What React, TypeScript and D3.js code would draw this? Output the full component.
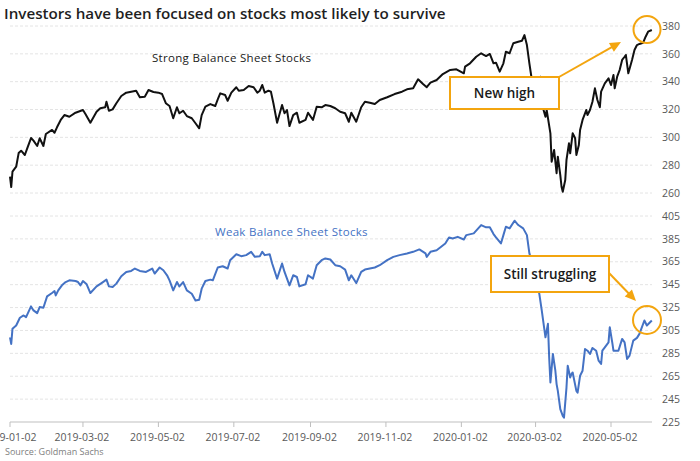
import React from "react";
import * as d3 from "d3";

const strongDates = [
  "2019-01-02","2019-01-03","2019-01-04","2019-01-07","2019-01-09","2019-01-11","2019-01-14","2019-01-16","2019-01-19","2019-01-21",
  "2019-01-24","2019-01-26","2019-01-29","2019-01-31","2019-02-05","2019-02-07","2019-02-09","2019-02-12","2019-02-15","2019-02-19",
  "2019-02-24","2019-03-02","2019-03-04","2019-03-08","2019-03-13","2019-03-16","2019-03-20","2019-03-21","2019-03-23","2019-03-26",
  "2019-03-29","2019-04-02","2019-04-06","2019-04-10","2019-04-14","2019-04-17","2019-04-21","2019-04-24","2019-04-28","2019-05-02",
  "2019-05-05","2019-05-08","2019-05-11","2019-05-14","2019-05-17","2019-05-19","2019-05-22","2019-05-25","2019-05-29","2019-06-01",
  "2019-06-04","2019-06-06","2019-06-09","2019-06-13","2019-06-17","2019-06-19","2019-06-21","2019-06-25","2019-06-27","2019-06-30",
  "2019-07-04","2019-07-06","2019-07-10","2019-07-14","2019-07-18","2019-07-21","2019-07-23","2019-07-25","2019-07-27","2019-07-30",
  "2019-08-01","2019-08-03","2019-08-06","2019-08-10","2019-08-12","2019-08-14","2019-08-16","2019-08-19","2019-08-22","2019-08-24",
  "2019-08-29","2019-08-31","2019-09-04","2019-09-07","2019-09-11","2019-09-14","2019-09-18","2019-09-22","2019-09-26","2019-09-30",
  "2019-10-03","2019-10-05","2019-10-09","2019-10-13","2019-10-16","2019-10-20","2019-10-24","2019-10-28","2019-11-03","2019-11-09",
  "2019-11-15","2019-11-19","2019-11-24","2019-11-28","2019-12-02","2019-12-05","2019-12-08","2019-12-13","2019-12-18","2019-12-24",
  "2019-12-29","2020-01-04","2020-01-05","2020-01-09","2020-01-14","2020-01-18","2020-01-22","2020-01-25","2020-01-28","2020-01-30",
  "2020-02-02","2020-02-05","2020-02-07","2020-02-10","2020-02-13","2020-02-17","2020-02-20","2020-02-22","2020-02-24","2020-02-26",
  "2020-02-28","2020-03-02","2020-03-04","2020-03-06","2020-03-08","2020-03-10","2020-03-11","2020-03-14","2020-03-15","2020-03-17",
  "2020-03-19","2020-03-20","2020-03-22","2020-03-23","2020-03-24","2020-03-26","2020-03-27","2020-03-29","2020-03-30","2020-04-01",
  "2020-04-03","2020-04-04","2020-04-06","2020-04-07","2020-04-09","2020-04-12","2020-04-13","2020-04-15","2020-04-17","2020-04-19",
  "2020-04-21","2020-04-23","2020-04-24","2020-04-27","2020-04-30","2020-05-02","2020-05-04","2020-05-05","2020-05-07","2020-05-09",
  "2020-05-11","2020-05-13","2020-05-14","2020-05-16","2020-05-19","2020-05-21","2020-05-23","2020-05-25","2020-05-28","2020-05-30",
  "2020-06-01","2020-06-04"
];
const strongValues = [
  271.7,264.3,275.3,278.9,288.7,290.4,287.3,292.3,299.5,297.6,
  293.8,299.3,293.8,302.4,305.3,303.3,307.2,312.5,316.0,314.8,
  317.7,319.6,316.8,310.5,318.4,320.9,321.6,325.6,319.1,320.1,
  324.5,329.7,332.1,332.8,333.5,328.8,329.2,334.0,332.6,332.1,
  331.1,324.5,322.5,313.7,321.6,317.3,319.1,315.3,313.7,310.1,
  306.5,316.0,322.0,323.9,322.5,327.3,331.6,330.4,326.3,332.1,
  336.0,333.5,334.0,336.9,336.0,332.1,333.5,337.6,332.1,333.5,
  332.8,324.5,310.5,323.2,317.3,319.6,308.1,316.0,317.7,310.5,
  312.5,317.7,312.5,322.0,321.6,323.2,322.5,320.9,318.4,317.3,
  311.2,317.7,311.2,321.6,325.6,324.9,323.9,326.8,328.8,331.1,
  332.8,334.5,335.2,341.7,338.3,336.0,339.3,341.2,345.5,348.4,
  348.9,346.0,350.8,353.2,357.9,360.4,358.4,359.9,353.2,353.6,
  347.2,353.2,361.5,360.4,367.6,368.7,369.4,373.5,366.3,353.2,
  341.2,340.0,335.0,343.5,321.1,314.8,319.6,302.9,282.5,290.9,
  274.2,286.1,272.9,264.5,260.9,269.3,283.7,295.7,288.5,302.9,
  299.3,287.3,294.5,305.3,312.5,319.6,316.0,319.6,325.6,335.2,
  326.8,321.6,332.8,338.8,342.4,337.6,344.8,335.2,343.6,348.4,
  355.6,357.9,359.2,346.0,355.6,362.8,366.3,367.1,368.0,372.3,
  375.9,377.1
];

const weakDates = [
  "2019-01-02","2019-01-03","2019-01-04","2019-01-07","2019-01-10","2019-01-13","2019-01-15","2019-01-19","2019-01-21","2019-01-24",
  "2019-01-26","2019-01-29","2019-02-01","2019-02-05","2019-02-07","2019-02-08","2019-02-10","2019-02-13","2019-02-16","2019-02-19",
  "2019-02-24","2019-02-26","2019-02-28","2019-03-02","2019-03-05","2019-03-08","2019-03-13","2019-03-17","2019-03-21","2019-03-23",
  "2019-03-26","2019-03-29","2019-04-02","2019-04-06","2019-04-10","2019-04-13","2019-04-17","2019-04-22","2019-04-27","2019-04-29",
  "2019-05-03","2019-05-06","2019-05-09","2019-05-11","2019-05-14","2019-05-17","2019-05-19","2019-05-22","2019-05-25","2019-05-29",
  "2019-06-01","2019-06-04","2019-06-06","2019-06-09","2019-06-13","2019-06-15","2019-06-19","2019-06-23","2019-06-27","2019-06-29",
  "2019-07-04","2019-07-08","2019-07-12","2019-07-16","2019-07-19","2019-07-23","2019-07-25","2019-07-27","2019-07-31","2019-08-02",
  "2019-08-06","2019-08-10","2019-08-12","2019-08-16","2019-08-19","2019-08-22","2019-08-24","2019-08-29","2019-08-31","2019-09-04",
  "2019-09-07","2019-09-11","2019-09-14","2019-09-18","2019-09-22","2019-09-26","2019-09-30","2019-10-03","2019-10-05","2019-10-09",
  "2019-10-13","2019-10-16","2019-10-20","2019-10-24","2019-10-28","2019-11-03","2019-11-08","2019-11-13","2019-11-19","2019-11-24",
  "2019-11-29","2019-12-04","2019-12-05","2019-12-08","2019-12-13","2019-12-20","2019-12-23","2019-12-26","2019-12-30","2020-01-04",
  "2020-01-06","2020-01-12","2020-01-18","2020-01-22","2020-01-25","2020-01-28","2020-01-30","2020-02-03","2020-02-05","2020-02-07",
  "2020-02-10","2020-02-14","2020-02-17","2020-02-21","2020-02-24","2020-02-26","2020-02-29","2020-03-03","2020-03-05","2020-03-07",
  "2020-03-10","2020-03-12","2020-03-13","2020-03-14","2020-03-16","2020-03-18","2020-03-19","2020-03-20","2020-03-22","2020-03-24",
  "2020-03-25","2020-03-27","2020-03-28","2020-03-30","2020-03-31","2020-04-01","2020-04-04","2020-04-05","2020-04-07","2020-04-09",
  "2020-04-11","2020-04-13","2020-04-15","2020-04-17","2020-04-20","2020-04-22","2020-04-24","2020-04-25","2020-04-27","2020-04-30",
  "2020-05-01","2020-05-03","2020-05-04","2020-05-08","2020-05-11","2020-05-13","2020-05-15","2020-05-17","2020-05-20","2020-05-23",
  "2020-05-25","2020-05-29","2020-05-31","2020-06-04"
];
const weakValues = [
  299.0,293.2,306.4,309.3,316.1,318.1,316.6,326.0,322.5,320.1,
  325.4,324.8,334.8,337.7,339.4,335.6,340.0,344.4,347.3,348.8,
  348.2,347.3,344.4,348.2,345.3,337.7,343.5,346.4,349.4,343.5,
  342.9,345.9,352.3,356.1,357.0,359.1,357.0,356.1,359.1,354.7,
  360.0,357.6,353.2,348.8,340.0,347.3,343.5,347.3,340.0,337.1,
  331.2,331.9,341.5,348.2,349.4,348.8,360.0,361.1,359.1,366.4,
  371.6,369.9,370.8,373.7,369.3,369.9,373.7,370.8,371.6,363.5,
  350.3,363.5,356.1,344.4,353.2,351.7,343.5,345.3,353.2,350.3,
  362.0,366.4,367.9,367.0,362.0,361.1,358.2,348.8,353.2,346.4,
  356.1,358.2,359.1,360.0,362.0,366.4,369.3,370.8,372.3,373.7,
  375.8,372.3,369.3,373.7,375.1,381.0,386.3,385.4,386.8,384.5,
  388.3,389.8,397.1,395.1,395.1,389.2,386.3,381.0,388.3,395.6,
  394.2,400.9,397.1,394.2,388.3,372.3,362.0,348.8,337.1,322.5,
  299.0,310.8,281.5,259.5,284.5,269.8,258.1,252.2,236.2,230.3,
  228.8,255.1,274.2,263.9,266.9,268.3,252.2,250.7,265.4,269.8,
  288.8,287.3,284.4,289.7,287.3,278.6,275.7,287.3,290.2,294.6,
  307.8,294.6,287.3,287.3,297.6,294.6,280.1,283.0,296.1,298.5,
  302.0,313.7,309.3,313.7
];

const xTickLabels = ["2019-01-02","2019-03-02","2019-05-02","2019-07-02","2019-09-02","2019-11-02","2020-01-02","2020-03-02","2020-05-02"];
const strongTicks = [260, 280, 300, 320, 340, 360, 380];
const weakTicks = [225, 245, 265, 285, 305, 325, 345, 365, 385, 405];

const titleText = "Investors have been focused on stocks most likely to survive";
const strongLabel = "Strong Balance Sheet Stocks";
const weakLabel = "Weak Balance Sheet Stocks";
const note1 = "New high";
const note2 = "Still struggling";
const sourceText = "Source: Goldman Sachs";

const W = 700, H = 461;
const ORANGE = "#F3A50F";
const BLUE = "#4472C4";
const FONT = "'Open Sans', 'Noto Sans', sans-serif";

function parse(s: string) { return new Date(s + "T00:00:00Z"); }

export default function App() {
  const x = d3.scaleUtc().domain([parse("2019-01-02"), parse("2020-05-02")]).range([10, 611]);
  const yTop = d3.scaleLinear().domain([260, 380]).range([193, 26]);
  const yBot = d3.scaleLinear().domain([225, 405]).range([422, 216]);

  const strongData = strongDates.map((d, i) => ({ d: parse(d), v: strongValues[i] }));
  const weakData = weakDates.map((d, i) => ({ d: parse(d), v: weakValues[i] }));

  const lineTop = d3.line<{ d: Date; v: number }>().x(p => x(p.d)).y(p => yTop(p.v));
  const lineBot = d3.line<{ d: Date; v: number }>().x(p => x(p.d)).y(p => yBot(p.v));

  const gridX0 = 10, gridX1 = 652;

  const arrowHead = (x1: number, y1: number, x2: number, y2: number, len = 11, w = 5) => {
    const a = Math.atan2(y2 - y1, x2 - x1);
    const bx = x2 - len * Math.cos(a), by = y2 - len * Math.sin(a);
    const px = -Math.sin(a) * w, py = Math.cos(a) * w;
    return `M${x2},${y2}L${bx + px},${by + py}L${bx - px},${by - py}Z`;
  };
  const lineEnd = (x1: number, y1: number, x2: number, y2: number, len = 9) => {
    const a = Math.atan2(y2 - y1, x2 - x1);
    return [x2 - len * Math.cos(a), y2 - len * Math.sin(a)];
  };
  const a1 = [559, 77, 621, 42];
  const a2 = [609, 273, 636, 301];
  const e1 = lineEnd(a1[0], a1[1], a1[2], a1[3]);
  const e2 = lineEnd(a2[0], a2[1], a2[2], a2[3]);

  return (
    <div style={{ position: "absolute", left: 0, top: 0, width: W, height: H, background: "#fff" }}>
      <svg width={W} height={H} style={{ display: "block", fontFamily: FONT }}>
        <rect x={0} y={0} width={W} height={H} fill="#fff" />
        {strongTicks.map(t => (
          <line key={"gt" + t} x1={gridX0} x2={gridX1} y1={yTop(t)} y2={yTop(t)} stroke="#e4e4e4" strokeDasharray="3 2" />
        ))}
        {weakTicks.filter(t => t !== 225).map(t => (
          <line key={"gb" + t} x1={gridX0} x2={gridX1} y1={yBot(t)} y2={yBot(t)} stroke="#e4e4e4" strokeDasharray="3 2" />
        ))}
        <line x1={gridX0} x2={gridX1} y1={yBot(225)} y2={yBot(225)} stroke="#bfbfbf" />
        {xTickLabels.map(t => (
          <g key={t}>
            <line x1={x(parse(t))} x2={x(parse(t))} y1={yBot(225)} y2={yBot(225) + 5} stroke="#bfbfbf" />
            <text x={x(parse(t)) - 1} y={441} textAnchor="middle" fontSize={10.5} fill="#595959">{t}</text>
          </g>
        ))}
        {strongTicks.map(t => (
          <text key={"lt" + t} x={662} y={yTop(t)} dy="0.35em" fontSize={10.5} fill="#595959">{t}</text>
        ))}
        {weakTicks.map(t => (
          <text key={"lb" + t} x={662} y={yBot(t)} dy="0.35em" fontSize={10.5} fill="#595959">{t}</text>
        ))}
        <path d={lineTop(strongData) || ""} fill="none" stroke="#111" strokeWidth={2} strokeLinejoin="round" />
        <path d={lineBot(weakData) || ""} fill="none" stroke={BLUE} strokeWidth={2} strokeLinejoin="round" />
        <text x={4} y={19} fontSize={15.2} fontWeight={600} fill="#1f1f1f">{titleText}</text>
        <text x={152} y={62} fontSize={11.5} fill="#1a1a1a" letterSpacing={0.3}>{strongLabel}</text>
        <text x={215} y={236} fontSize={11.5} fill={BLUE} letterSpacing={0.3}>{weakLabel}</text>
        <rect x={450} y={77} width={109} height={32} fill="#fff" stroke={ORANGE} strokeWidth={2} />
        <text x={504.5} y={93} dy="0.35em" textAnchor="middle" fontSize={13.5} fontWeight={600} fill="#1a1a1a">{note1}</text>
        <line x1={a1[0]} y1={a1[1]} x2={e1[0]} y2={e1[1]} stroke={ORANGE} strokeWidth={2} />
        <path d={arrowHead(a1[0], a1[1], a1[2], a1[3])} fill={ORANGE} />
        <circle cx={647} cy={29.5} r={13.5} fill="none" stroke={ORANGE} strokeWidth={2} />
        <rect x={491} y={256} width={118} height={36} fill="#fff" stroke={ORANGE} strokeWidth={2} />
        <text x={550} y={274} dy="0.35em" textAnchor="middle" fontSize={13.5} fontWeight={600} fill="#1a1a1a">{note2}</text>
        <line x1={a2[0]} y1={a2[1]} x2={e2[0]} y2={e2[1]} stroke={ORANGE} strokeWidth={2} />
        <path d={arrowHead(a2[0], a2[1], a2[2], a2[3])} fill={ORANGE} />
        <circle cx={647} cy={320} r={14} fill="none" stroke={ORANGE} strokeWidth={2} />
        <text x={5} y={455} fontSize={9} fill="#808080">{sourceText}</text>
      </svg>
    </div>
  );
}
